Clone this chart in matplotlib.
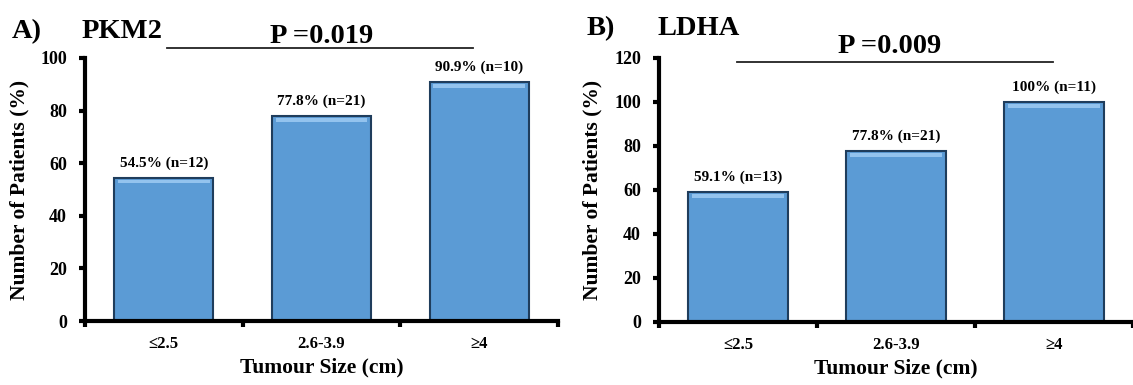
import matplotlib
matplotlib.use('Agg')
from matplotlib import pyplot as plt

# data
sizes = ['≤2.5', '2.6-3.9', '≥4']
pkm2_pct = [54.5, 77.8, 90.9]
pkm2_n = [12, 21, 10]
ldha_pct = [59.1, 77.8, 100]
ldha_n = [13, 21, 11]

plt.rcParams['font.family'] = ['Liberation Serif', 'DejaVu Serif']
plt.rcParams['font.weight'] = 'bold'

W, H = 1133.0, 385.0
fig = plt.figure(figsize=(11.33, 3.85), dpi=100)
ax1 = fig.add_axes([85 / W, 1 - 321 / H, 473 / W, 263 / H])
ax2 = fig.add_axes([659 / W, 1 - 322 / H, 474 / W, 264 / H])


def draw_panel(ax, pct, n, ymax, pct_fmt):
    x = range(len(sizes))
    ax.bar(x, pct, width=0.63, color='#5b9bd5', edgecolor='#1f3d5c', linewidth=1.5)
    # lighter strip under the top edge (bevel look)
    ax.bar(x, [ymax * 0.014] * len(x), bottom=[p - ymax * 0.022 for p in pct],
           width=0.58, color='#93c3ee', linewidth=0)
    for i, p in enumerate(pct):
        ax.text(i, p + ymax * 0.03, pct_fmt(p) + ' (n=' + str(n[i]) + ')',
                ha='center', va='bottom', fontsize=11, fontweight='bold')
    ax.set_xlim(-0.5, 2.5)
    ax.set_ylim(0, ymax)
    ax.set_yticks(range(0, ymax + 1, 20))
    ax.set_xticks(list(x))
    ax.set_xticklabels(sizes)
    ax.set_xticks([-0.5, 0.5, 1.5, 2.5], minor=True)
    ax.tick_params(axis='x', which='major', length=0, pad=11, labelsize=12)
    ax.tick_params(axis='x', which='minor', length=4, width=3, direction='out')
    ax.tick_params(axis='y', length=4, width=3, labelsize=13, pad=9)
    for s in ['top', 'right']:
        ax.spines[s].set_visible(False)
    for s in ['left', 'bottom']:
        ax.spines[s].set_linewidth(3)
    ax.set_xlabel('Tumour Size (cm)', fontsize=15.5, fontweight='bold', labelpad=4)
    ax.set_ylabel('Number of Patients (%)', fontsize=15.5, fontweight='bold', labelpad=8)
    for lab in ax.get_xticklabels() + ax.get_yticklabels():
        lab.set_fontweight('bold')


draw_panel(ax1, pkm2_pct, pkm2_n, 100, lambda p: '%.1f%%' % p)
draw_panel(ax2, ldha_pct, ldha_n, 120,
           lambda p: ('%d%%' % p) if p == 100 else '%.1f%%' % p)

# panel headings and p-value bars
fs = 20.5
fig.text(12 / W, 1 - 38 / H, 'A)', fontsize=fs, fontweight='bold', va='baseline')
fig.text(82 / W, 1 - 38 / H, 'PKM2', fontsize=fs, fontweight='bold', va='baseline')
fig.text(322 / W, 1 - 43 / H, 'P =0.019', fontsize=fs, fontweight='bold',
         va='baseline', ha='center')
fig.add_artist(plt.Line2D([167 / W, 473 / W], [1 - 47.5 / H, 1 - 47.5 / H],
                          color='#222222', linewidth=1.3))

fig.text(587 / W, 1 - 35 / H, 'B)', fontsize=fs, fontweight='bold', va='baseline')
fig.text(658 / W, 1 - 35 / H, 'LDHA', fontsize=fs, fontweight='bold', va='baseline')
fig.text(890 / W, 1 - 53 / H, 'P =0.009', fontsize=fs, fontweight='bold',
         va='baseline', ha='center')
fig.add_artist(plt.Line2D([737 / W, 1053 / W], [1 - 62 / H, 1 - 62 / H],
                          color='#222222', linewidth=1.3))

plt.savefig('out.png', dpi=100)
